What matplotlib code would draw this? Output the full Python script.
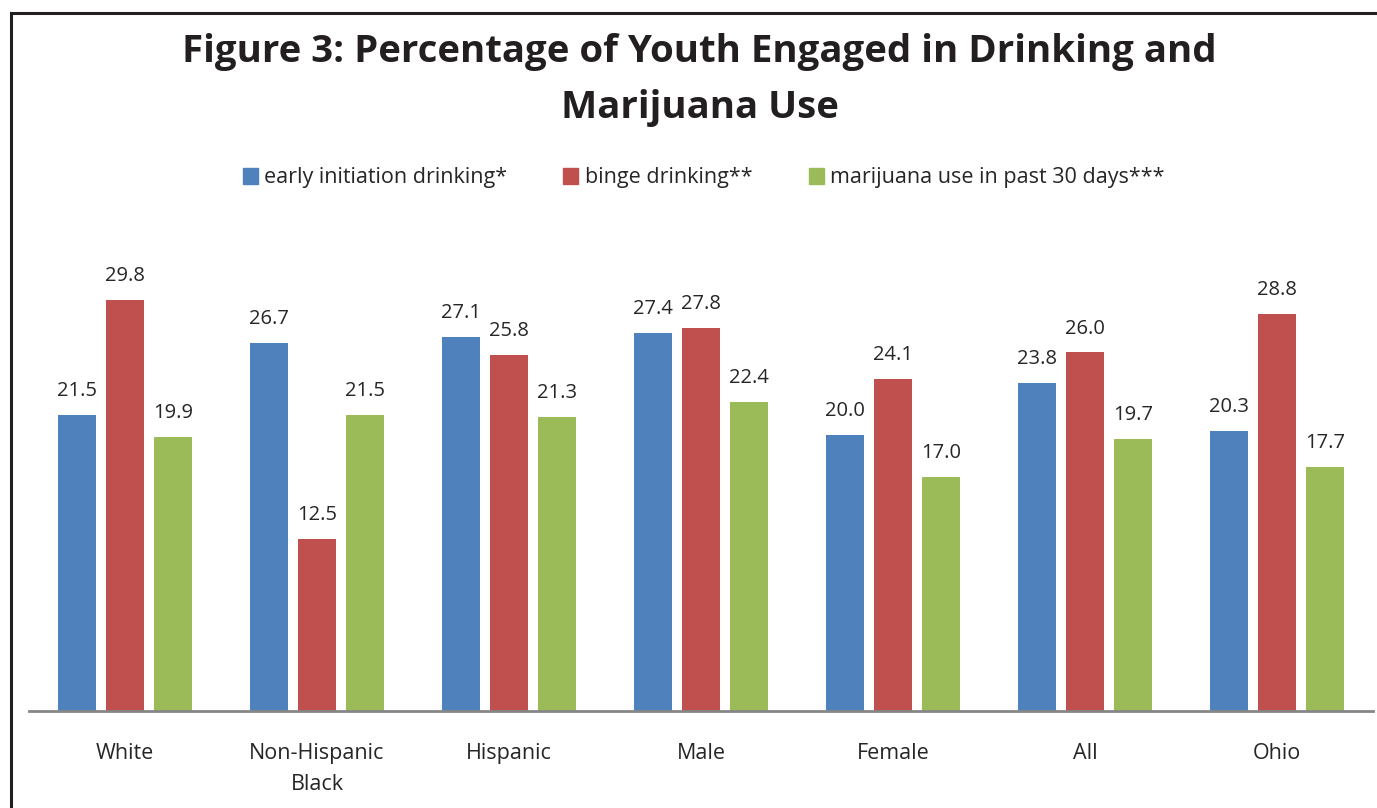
import numpy as np
import matplotlib
matplotlib.use("Agg")
import matplotlib.pyplot as plt
from matplotlib.lines import Line2D
from matplotlib.patches import Patch

# ==========================================
# Data
# ==========================================

categories = ["White", "Non-Hispanic\nBlack", "Hispanic", "Male", "Female", "All", "Ohio"]
series_names = [
    "early initiation drinking*",
    "binge drinking**",
    "marijuana use in past 30 days***",
]
early_initiation = [21.5, 26.7, 27.1, 27.4, 20.0, 23.8, 20.3]
binge_drinking = [29.8, 12.5, 25.8, 27.8, 24.1, 26.0, 28.8]
marijuana_use = [19.9, 21.5, 21.3, 22.4, 17.0, 19.7, 17.7]

colors = ["#4F81BD", "#C0504D", "#9BBB59"]

plt.rcParams["font.family"] = ["Open Sans", "DejaVu Sans"]

W, H = 1377, 808
fig = plt.figure(figsize=(W / 100, H / 100), dpi=100)

ax = fig.add_axes([29 / W, 1 - 711 / H, (1373 - 29) / W, (711 - 250) / H])

x = np.arange(len(categories))
width = 0.2
offsets = [-0.25, 0.0, 0.25]

for vals, off, col in zip([early_initiation, binge_drinking, marijuana_use], offsets, colors):
    bars = ax.bar(x + off, vals, width, color=col, zorder=2)
    for b, v in zip(bars, vals):
        ax.annotate(f"{v:.1f}", (b.get_x() + b.get_width() / 2, v),
                    xytext=(0, 10), textcoords="offset points",
                    ha="center", va="bottom", fontsize=14.5, color="#262626")

ax.set_xlim(-0.5, 6.5)
ax.set_ylim(0, (711 - 250) / 13.79)
ax.set_yticks([])
ax.set_xticks(x)
ax.set_xticklabels(categories, fontsize=15.5, color="#262626", linespacing=1.6)
ax.tick_params(axis="x", length=0, pad=23)
for s in ["top", "right", "left"]:
    ax.spines[s].set_visible(False)
ax.spines["bottom"].set_color("#868686")
ax.spines["bottom"].set_linewidth(2)

# title
fig.text(0.508, 1 - 52 / H, "Figure 3: Percentage of Youth Engaged in Drinking and",
         ha="center", va="center", fontsize=27.6, fontweight="bold", color="#231f20")
fig.text(0.508, 1 - 108 / H, "Marijuana Use",
         ha="center", va="center", fontsize=27.6, fontweight="bold", color="#231f20")

# legend
handles = [Patch(color=c) for c in colors]
fig.legend(handles, series_names, loc="center", bbox_to_anchor=(0.511, 1 - 178 / H),
           ncol=3, frameon=False, fontsize=15.5, handlelength=0.7, handleheight=0.7,
           handletextpad=0.3, columnspacing=2.6, labelcolor="#262626")

# frame lines on the page
fig.add_artist(Line2D([11 / W, 1], [1 - 13 / H, 1 - 13 / H], transform=fig.transFigure,
                      color="#231f20", lw=2.2))
fig.add_artist(Line2D([11 / W, 11 / W], [0, 1 - 13 / H], transform=fig.transFigure,
                      color="#231f20", lw=2.2))

fig.savefig("out.png", dpi=100)
